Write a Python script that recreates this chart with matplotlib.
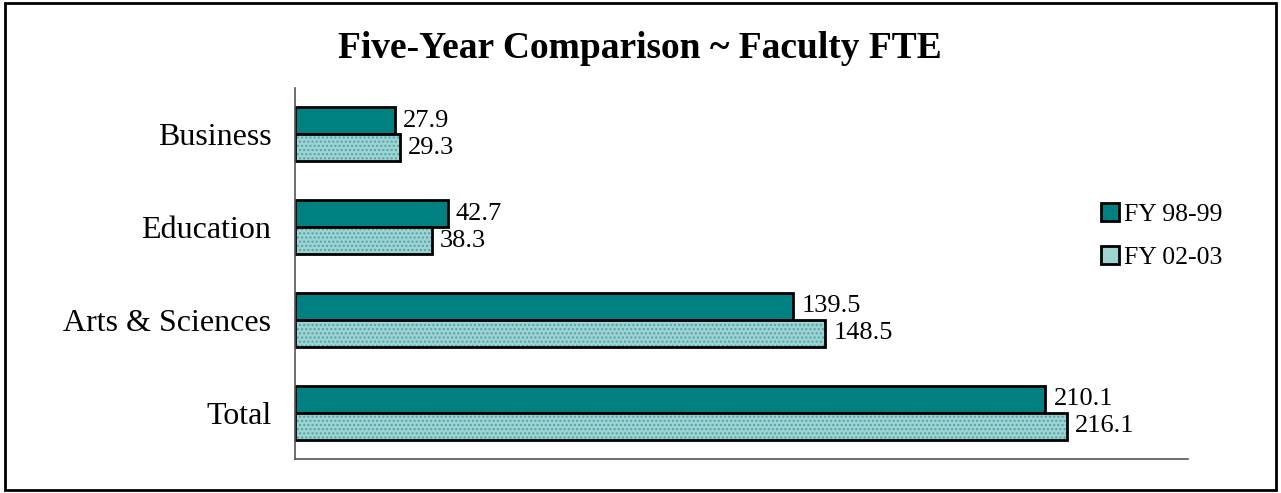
import matplotlib
matplotlib.use('Agg')
import matplotlib.pyplot as plt
from matplotlib.patches import Rectangle, Patch
import numpy as np

categories = ['Business', 'Education', 'Arts & Sciences', 'Total']
fy_98_99 = [27.9, 42.7, 139.5, 210.1]
fy_02_03 = [29.3, 38.3, 148.5, 216.1]

plt.rcParams['font.family'] = 'Liberation Serif'
teal = '#008080'
light = '#9fd2d2'

fig = plt.figure(figsize=(12.81, 4.93), dpi=100)
ax = fig.add_axes([295/1281, 1-459/493, (1188-295)/1281, (459-88)/493])

y = np.arange(len(categories))
h = 0.29
b1 = ax.barh(y - h/2, fy_98_99, h, color=teal, edgecolor='black', linewidth=2)
# hatched fill, then black outline on top
ax.barh(y + h/2, fy_02_03, h, color=light, edgecolor='#4aa6a6', hatch='....', linewidth=0)
b2 = ax.barh(y + h/2, fy_02_03, h, color='none', edgecolor='black', linewidth=2)

ax.bar_label(b1, labels=[f'{v:.1f}' for v in fy_98_99], padding=6, fontsize=19)
ax.bar_label(b2, labels=[f'{v:.1f}' for v in fy_02_03], padding=6, fontsize=19)

ax.set_xlim(0, 250)
ax.set_ylim(3.5, -0.5)
ax.set_yticks(y)
ax.set_yticklabels(categories, fontsize=23)
ax.tick_params(axis='y', length=0, pad=17)
ax.set_xticks([])
for s in ['top', 'right']:
    ax.spines[s].set_visible(False)
for s in ['left', 'bottom']:
    ax.spines[s].set_color('#555555')
    ax.spines[s].set_linewidth(1.2)

fig.text(640/1281, 1-48/493, 'Five-Year Comparison ~ Faculty FTE', ha='center', va='center',
         fontsize=27, fontweight='bold')

handles = [Patch(facecolor=teal, edgecolor='black', linewidth=2),
           Patch(facecolor=light, edgecolor='black', linewidth=2)]
fig.legend(handles, ['FY 98-99', 'FY 02-03'], loc='center left',
           bbox_to_anchor=(1078/1281, 1-236/493), frameon=False, fontsize=18.5,
           handlelength=0.7, handleheight=0.7, handletextpad=0.2, labelspacing=0.75)

fig.patches.append(Rectangle((5/1281, 3/493), 1271/1281, 487/493, transform=fig.transFigure,
                             fill=False, edgecolor='black', linewidth=2))

fig.savefig('out.png', dpi=100)
